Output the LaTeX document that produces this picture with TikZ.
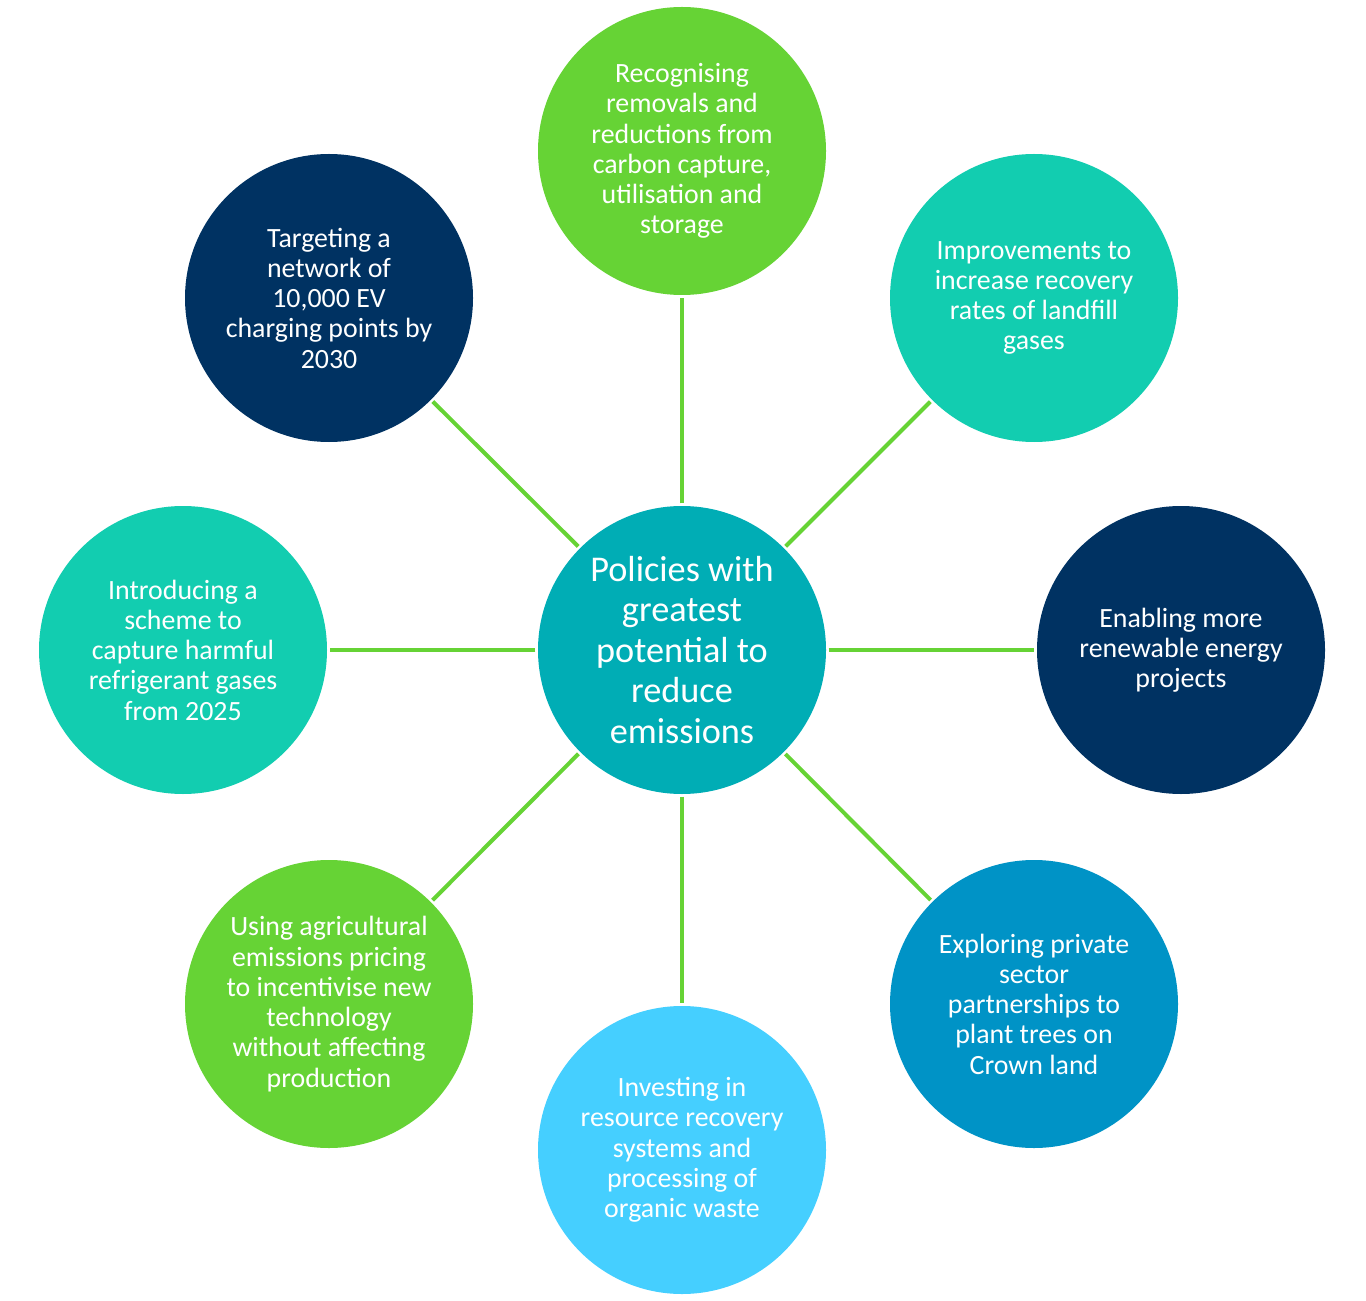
\documentclass[tikz,border=0pt]{standalone}
\usepackage{fontspec}
\setmainfont{Carlito}
\definecolor{leafgreen}{HTML}{66D335}
\definecolor{seateal}{HTML}{12CDB0}
\definecolor{deepnavy}{HTML}{003262}
\definecolor{hubteal}{HTML}{00ADB5}
\definecolor{oceanblue}{HTML}{0093C6}
\definecolor{skyblue}{HTML}{45CFFF}
\begin{document}
\begin{tikzpicture}[x=0.75pt,y=-0.75pt,
    bubble/.style={circle,minimum size=216pt,inner sep=0pt,outer sep=2pt,text=white,align=center,
      font=\fontsize{20.9}{22.7}\selectfont},
    spoke/.style={leafgreen,line width=3pt}]
  \useasboundingbox (0,0) rectangle (1366,1301);
  % centre
  \node[bubble,fill=hubteal,font=\fontsize{27.2}{30.4}\selectfont] (hub) at (682,650)
    {Policies with\\greatest\\potential to\\reduce\\emissions};
  % ring of policies
  \node[bubble,fill=leafgreen] (ccus) at (682,151)
    {Recognising\\removals and\\reductions from\\carbon capture,\\utilisation and\\storage};
  \node[bubble,fill=seateal] (landfill) at (1034,298)
    {Improvements to\\increase recovery\\rates of landfill\\gases};
  \node[bubble,fill=deepnavy] (renew) at (1181,650)
    {Enabling more\\renewable energy\\projects};
  \node[bubble,fill=oceanblue] (trees) at (1034,1004)
    {Exploring private\\sector\\partnerships to\\plant trees on\\Crown land};
  \node[bubble,fill=skyblue] (waste) at (682,1150)
    {Investing in\\resource recovery\\systems and\\processing of\\organic waste};
  \node[bubble,fill=leafgreen] (agri) at (329,1004)
    {Using agricultural\\emissions pricing\\to incentivise new\\technology\\without affecting\\production};
  \node[bubble,fill=seateal] (refrig) at (183,650)
    {Introducing a\\scheme to\\capture harmful\\refrigerant gases\\from 2025};
  \node[bubble,fill=deepnavy] (evnet) at (329,298)
    {Targeting a\\network of\\10,000 EV\\charging points by\\2030};
  \foreach \p in {ccus,landfill,renew,trees,waste,agri,refrig,evnet}
    \draw[spoke] (hub) -- (\p);
\end{tikzpicture}
\end{document}
